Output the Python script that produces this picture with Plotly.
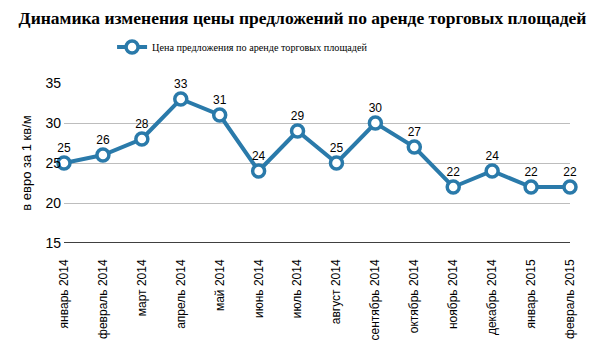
import plotly.graph_objects as go

months = ["январь 2014", "февраль 2014", "март 2014", "апрель 2014", "май 2014",
          "июнь 2014", "июль 2014", "август 2014", "сентябрь 2014", "октябрь 2014",
          "ноябрь 2014", "декабрь 2014", "январь 2015", "февраль 2015"]
prices = [25, 26, 28, 33, 31, 24, 29, 25, 30, 27, 22, 24, 22, 22]
series_name = "Цена предложения по аренде торговых площадей"
title_text = "Динамика изменения цены предложений по аренде торговых площадей"
y_title = "в евро за 1 кв/м"

blue = "#2a7aaa"
sans = "Liberation Sans, Arial, sans-serif"
serif = "Liberation Serif, Times New Roman, serif"

W, H = 603, 353

fig = go.Figure()
fig.add_trace(go.Scatter(
    x=list(range(len(months))), y=prices, name=series_name,
    mode="lines+markers+text",
    line=dict(color=blue, width=4),
    marker=dict(size=12, color="white", line=dict(color=blue, width=3.5)),
    text=[str(v) for v in prices], textposition="top center",
    textfont=dict(family=sans, size=12, color="black"),
    cliponaxis=False,
))

fig.update_layout(
    width=W, height=H,
    margin=dict(l=56, r=41, t=75, b=118, autoexpand=False),
    paper_bgcolor="white", plot_bgcolor="white",
    title=dict(text="<b>" + title_text + "</b>", x=294.5 / W, xanchor="center",
               xref="container", yref="container", y=1 - 9.5 / H, yanchor="middle",
               font=dict(family=serif, size=17.5, color="black")),
    showlegend=True,
    legend=dict(orientation="h", x=0.095, xanchor="left", y=1.225, yanchor="middle",
                font=dict(family=serif, size=10.2, color="black"),
                bgcolor="rgba(0,0,0,0)"),
    xaxis=dict(
        range=[0, len(months) - 1], automargin=False,
        tickmode="array", tickvals=list(range(len(months))), ticktext=months,
        tickangle=-90, tickfont=dict(family=sans, size=12, color="black"),
        showgrid=False, showline=False, zeroline=False, ticks="",
        ticklabelstandoff=13,
    ),
    yaxis=dict(
        range=[15, 35], tickvals=[15, 20, 25, 30, 35], automargin=False,
        showgrid=True, gridcolor="#bdbdbd", gridwidth=1, zeroline=False,
        tickfont=dict(family=sans, size=14, color="black"),
        title=dict(text=y_title, font=dict(family=sans, size=13, color="black"), standoff=10),
        ticks="", ticklen=0, ticklabelstandoff=2,
    ),
)
# bottom axis line at y=15
fig.add_shape(type="line", xref="paper", yref="y", x0=0, x1=1, y0=15, y1=15,
              line=dict(color="black", width=1.5), layer="below")

fig.write_html("out.html")
